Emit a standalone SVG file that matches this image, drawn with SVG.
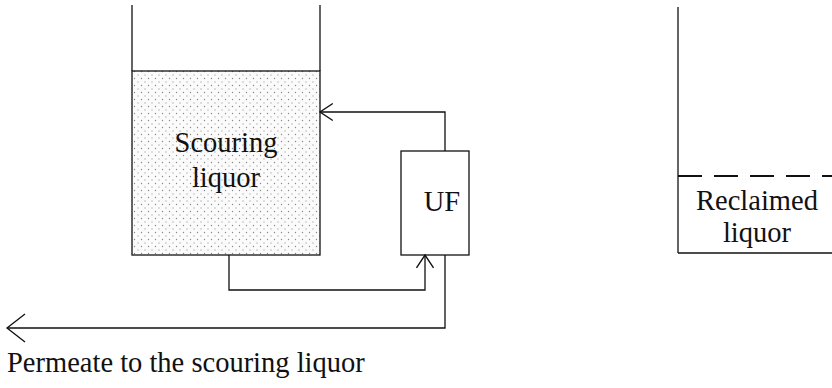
<svg xmlns="http://www.w3.org/2000/svg" width="832" height="388" viewBox="0 0 832 388">
<style>
.ln{fill:none;stroke:#111;stroke-width:1.3}
.liq{fill:url(#dots);stroke:#111;stroke-width:1.3}
.dash{fill:none;stroke:#111;stroke-width:2;stroke-dasharray:24 12}
text{font-family:'Liberation Serif','Times New Roman','DejaVu Serif',serif;font-size:28.5px;fill:#111}
.c{text-anchor:middle}
</style>
<defs>
<pattern id="dots" width="7" height="7" patternUnits="userSpaceOnUse">
<rect width="7" height="7" fill="#fbfbfb"/>
<circle cx="1.5" cy="1.5" r="0.7" fill="#888"/>
<circle cx="5" cy="5" r="0.7" fill="#aaa"/>
</pattern>
<marker id="arr" markerUnits="userSpaceOnUse" markerWidth="16" markerHeight="20" viewBox="-13 -9 15 18" refX="0" refY="0" orient="auto">
<path d="M-12,-8 L0,0 L-12,8" fill="none" stroke="#111" stroke-width="1.3"/>
</marker>
<marker id="arrBig" markerUnits="userSpaceOnUse" markerWidth="22" markerHeight="32" viewBox="-20 -15 22 30" refX="0" refY="0" orient="auto">
<path d="M-18,-14 L0,0 L-18,14" fill="none" stroke="#111" stroke-width="1.3"/>
</marker>
</defs>

<g id="scouring-tank">
<rect x="132" y="71" width="188" height="184" class="liq"/>
<line x1="132" y1="5" x2="132" y2="71" class="ln"/>
<line x1="320" y1="5" x2="320" y2="71" class="ln"/>
<text class="c" x="226" y="152">Scouring</text>
<text class="c" x="226" y="187">liquor</text>
</g>

<g id="uf">
<rect x="401" y="151" width="68" height="104" class="ln"/>
<text class="c" x="442" y="211">UF</text>
</g>

<g id="reclaimed-tank">
<line x1="678" y1="7" x2="678" y2="253" class="ln"/>
<line x1="678" y1="176" x2="832" y2="176" class="dash"/>
<line x1="678" y1="253" x2="832" y2="253" class="ln"/>
<text class="c" x="757" y="210">Reclaimed</text>
<text class="c" x="757" y="242">liquor</text>
</g>

<g id="connectors">
<polyline points="445,151 445,112 320,112" class="ln" marker-end="url(#arr)"/>
<polyline points="229,255 229,290 425,290 425,255" class="ln" marker-end="url(#arr)"/>
<polyline points="445,255 445,328 7,328" class="ln" marker-end="url(#arrBig)"/>
</g>

<g id="permeate-label">
<text x="7" y="372">Permeate to the scouring liquor</text>
</g>
</svg>
